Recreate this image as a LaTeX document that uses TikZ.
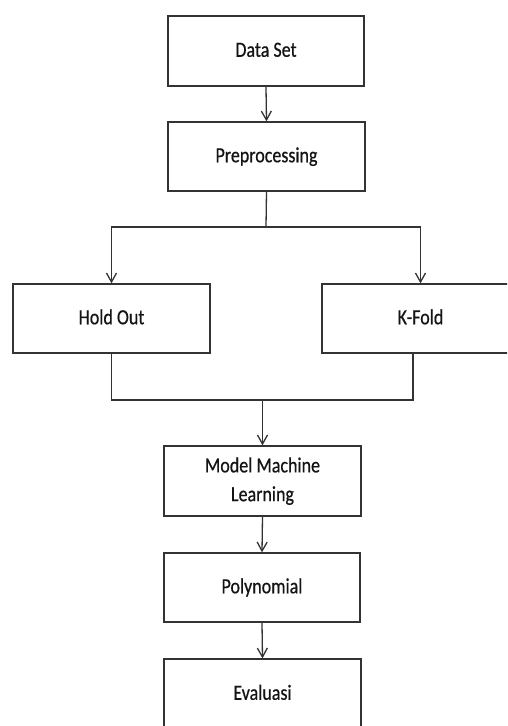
\documentclass[tikz,border=0pt]{standalone}
\usepackage{fontspec}
\usepackage{graphicx}
\setmainfont{Carlito}
\newfontfamily\boxfont[FakeBold=0.6]{Carlito}
\usetikzlibrary{arrows.meta}
\definecolor{ln}{HTML}{333333}
\definecolor{tx}{HTML}{141414}
\newcommand{\vtxt}[1]{\scalebox{1}[1.2]{\begin{tabular}{@{}c@{}}#1\end{tabular}}}
\tikzset{
  box/.style={draw=ln, line width=1.3pt, rectangle, text=tx, align=center,
    font=\boxfont\fontsize{18}{24}\selectfont, inner sep=0pt},
  conn/.style={draw=ln, line width=1.3pt},
  arr/.style={conn, -{Straight Barb[length=9pt,width=10pt,line width=1.3pt]}}
}
\begin{document}
\begin{tikzpicture}[x=1pt,y=-1pt]
\useasboundingbox (0,0) rectangle (507,726);
\fill[white] (0,0) rectangle (507,726);
\begin{scope}
\clip (0,0) rectangle (507,726);
\node[box, minimum width=196pt, minimum height=70pt] (ds) at (266,51) {\vtxt{Data Set}};
\node[box, minimum width=197pt, minimum height=69pt] (pre) at (266.5,156.5) {\vtxt{Preprocessing}};
\node[box, minimum width=197pt, minimum height=69pt] (ho) at (111.5,318.5) {\vtxt{Hold Out}};
\node[box, minimum width=197pt, minimum height=69pt] (kf) at (420.5,318.5) {\vtxt{K-Fold}};
\node[box, minimum width=197pt, minimum height=70pt] (ml) at (262.5,481) {\vtxt{Model Machine\\Learning}};
\node[box, minimum width=196pt, minimum height=69pt] (po) at (262,587.5) {\vtxt{Polynomial}};
\node[box, minimum width=197pt, minimum height=70pt] (ev) at (262.5,694) {\vtxt{Evaluasi}};

\coordinate (sp) at (266,227);
\coordinate (jn) at (262.5,400);

\draw[arr] (ds.south) -- (pre.north);
\draw[conn] (pre.south) -- (sp);
\draw[arr] (sp) -| (ho.north);
\draw[arr] (sp) -| (kf.north);
\draw[conn] (ho.south) |- (jn);
\draw[conn] ([xshift=-7.5pt]kf.south) |- (jn);
\draw[arr] (jn) -- (ml.north);
\draw[arr] (ml.south) -- (po.north);
\draw[arr] (po.south) -- (ev.north);
\end{scope}
\end{tikzpicture}
\end{document}
